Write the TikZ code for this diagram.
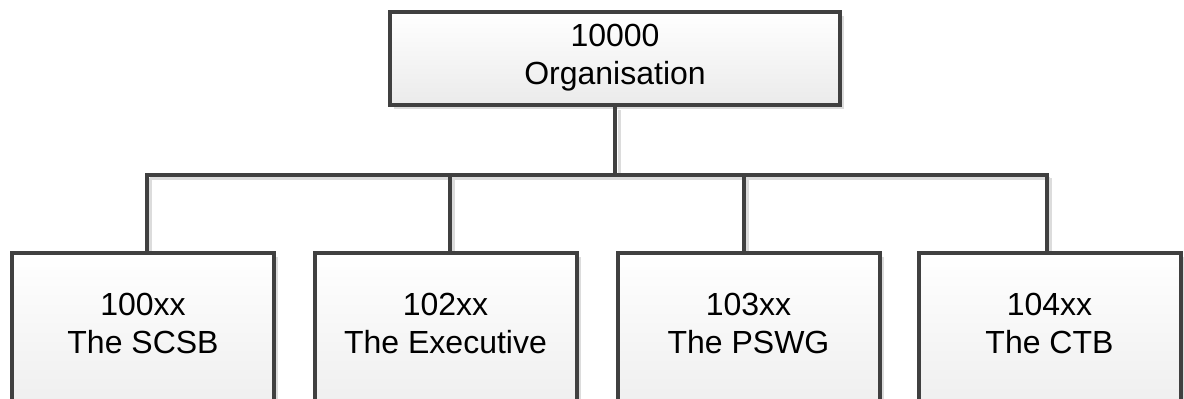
\documentclass[tikz,border=0pt]{standalone}
\usepackage{fontspec}
\setmainfont{Liberation Sans}
\usetikzlibrary{shadows,calc}
\definecolor{edge}{HTML}{404040}
\definecolor{shade}{HTML}{DCDCDC}
\tikzset{
  orgbox/.style={draw=edge, line width=4pt, rectangle, inner sep=0pt,
    top color=white, bottom color=black!8,
    drop shadow={shadow xshift=4pt, shadow yshift=-4pt, fill=shade, opacity=1}},
  txt/.style={align=center, font=\fontsize{32}{38}\selectfont, text=black},
  conn/.style={draw=edge, line width=3.5pt},
  connshadow/.style={draw=shade, line width=3pt},
}
\begin{document}
\begin{tikzpicture}[x=1pt,y=-1pt]
\useasboundingbox (0,0) rectangle (1184,399);
\clip (0,0) rectangle (1184,399);
\coordinate (bus) at (0,175);
% shadows of connectors
\begin{scope}[shift={(3,3)}]
\draw[connshadow] (147,175) -- (1047,175);
\draw[connshadow] (616,107) -- (616,175);
\draw[connshadow] (147,175) -- (147,249);
\draw[connshadow] (450,175) -- (450,249);
\draw[connshadow] (744,175) -- (744,249);
\draw[connshadow] (1047,175) -- (1047,249);
\end{scope}
% boxes
\node[orgbox, minimum width=450pt, minimum height=93pt] (top) at (615,58.5) {};
\node[txt] (toptxt) at ([yshift=1pt]top.center) {10000\\Organisation};
\node[orgbox, minimum width=262pt, minimum height=190pt, anchor=north] (b1) at (143,251) {};
\node[orgbox, minimum width=262pt, minimum height=190pt, anchor=north] (b2) at (445.5,251) {};
\node[orgbox, minimum width=262pt, minimum height=190pt, anchor=north] (b3) at (748.5,251) {};
\node[orgbox, minimum width=262pt, minimum height=190pt, anchor=north] (b4) at (1049.5,251) {};
\node[txt] (t1) at ($(b1.north)+(0,72)$) {100xx\\The SCSB};
\node[txt] (t2) at ($(b2.north)+(0,72)$) {102xx\\The Executive};
\node[txt] (t3) at ($(b3.north)+(0,72)$) {103xx\\The PSWG};
\node[txt] (t4) at ($(b4.north)+(0,72)$) {104xx\\The CTB};
% connectors
\draw[conn] (top.south) -- (top.south |- bus);
\draw[conn] ([xshift=4pt]b1.north) |- ([xshift=-2.5pt]b4.north |- bus) -- ([xshift=-2.5pt]b4.north);
\draw[conn] ([xshift=4.5pt]b2.north) -- ([xshift=4.5pt]b2.north |- bus);
\draw[conn] ([xshift=-4.5pt]b3.north) -- ([xshift=-4.5pt]b3.north |- bus);
\end{tikzpicture}
\end{document}
